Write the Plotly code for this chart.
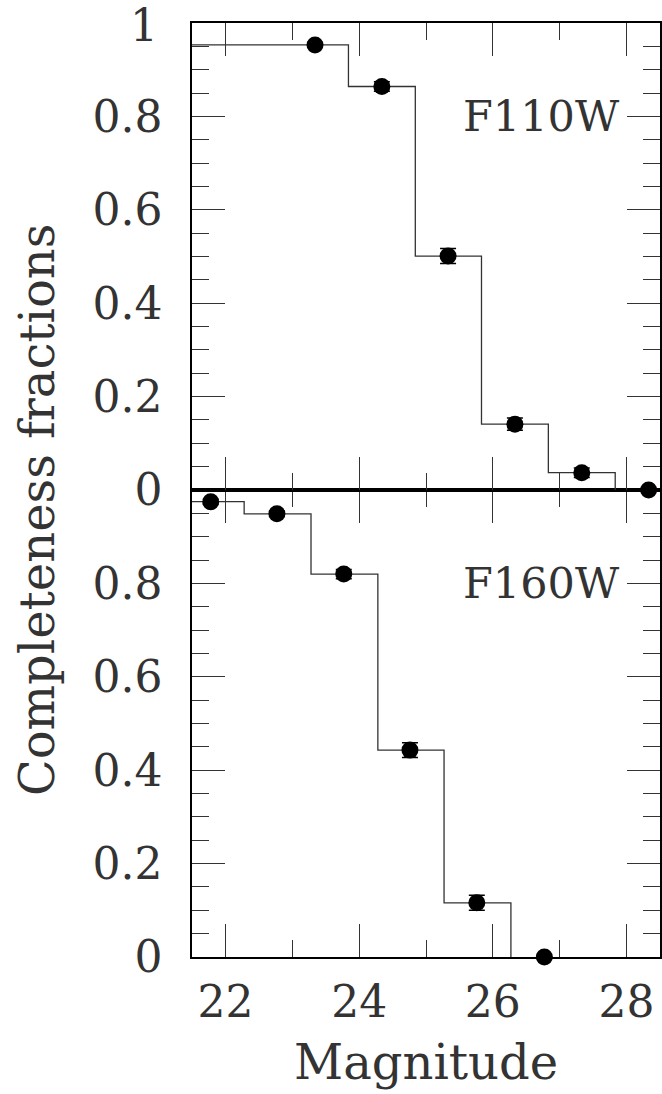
import plotly.graph_objects as go

# ---- data ----
f110_mag = [23.34, 24.34, 25.33, 26.33, 27.33, 28.33]
f110_frac = [0.953, 0.864, 0.501, 0.141, 0.037, 0.0]
f110_err = [0.005, 0.010, 0.016, 0.013, 0.010, 0.0]
f110_edges = [21.5, 23.84, 24.84, 25.83, 26.83, 27.83, 27.83]
f110_levels = [0.953, 0.864, 0.501, 0.141, 0.037, 0.0, 0.0]

f160_mag = [21.78, 22.77, 23.77, 24.76, 25.76, 26.77]
f160_frac = [0.975, 0.949, 0.820, 0.443, 0.116, 0.0]
f160_err = [0.005, 0.006, 0.010, 0.016, 0.016, 0.0]
f160_edges = [21.5, 22.28, 23.28, 24.28, 25.27, 26.27, 26.27]
f160_levels = [0.975, 0.949, 0.820, 0.443, 0.116, 0.0, 0.0]

x_ticks = [22, 24, 26, 28]
y_ticks_top = [0, 0.2, 0.4, 0.6, 0.8, 1]
y_labels_top = ["0", "0.2", "0.4", "0.6", "0.8", ""]
y_top_label = "1"
y_ticks_bot = [0, 0.2, 0.4, 0.6, 0.8, 1]
y_labels_bot = ["0", "0.2", "0.4", "0.6", "0.8", ""]

FONT = "DejaVu Serif"
TXT = "#333"

fig = go.Figure()

# upper panel (F110W)
fig.add_trace(go.Scatter(x=f110_edges, y=f110_levels, mode="lines", line_shape="hv",
                         line=dict(color="#333", width=1.3), xaxis="x2", yaxis="y2",
                         showlegend=False, hoverinfo="skip"))
fig.add_trace(go.Scatter(x=f110_mag, y=f110_frac, mode="markers",
                         marker=dict(size=17, color="black"),
                         error_y=dict(type="data", array=f110_err, color="black", thickness=1.5, width=8),
                         xaxis="x2", yaxis="y2", showlegend=False, cliponaxis=False))

# lower panel (F160W)
fig.add_trace(go.Scatter(x=f160_edges, y=f160_levels, mode="lines", line_shape="hv",
                         line=dict(color="#333", width=1.3), xaxis="x", yaxis="y",
                         showlegend=False, hoverinfo="skip"))
fig.add_trace(go.Scatter(x=f160_mag, y=f160_frac, mode="markers",
                         marker=dict(size=17, color="black"),
                         error_y=dict(type="data", array=f160_err, color="black", thickness=1.5, width=8),
                         xaxis="x", yaxis="y", showlegend=False, cliponaxis=False))

xcommon = dict(range=[21.5, 28.5], tickmode="array", tickvals=x_ticks,
               ticks="inside", ticklen=33, tickwidth=1.2, tickcolor="#333",
               minor=dict(dtick=1, tick0=22, ticks="inside", ticklen=17, tickwidth=1.2,
                          tickcolor="#333", showgrid=False),
               showline=True, linecolor="black", linewidth=1.5, mirror="ticks",
               showgrid=False, zeroline=False, ticklabeloverflow="allow", automargin=False,
               tickfont=dict(family=FONT, size=44, color=TXT))
ycommon = dict(range=[0, 1], tickmode="array",
               ticks="inside", ticklen=33, tickwidth=1.2, tickcolor="#333",
               minor=dict(dtick=0.05, tick0=0, ticks="inside", ticklen=17, tickwidth=1.2,
                          tickcolor="#333", showgrid=False),
               showline=True, linecolor="black", linewidth=1.5, mirror="ticks",
               showgrid=False, zeroline=False, ticklabelstandoff=19, ticklabeloverflow="allow",
               automargin=False,
               tickfont=dict(family=FONT, size=44, color=TXT))

fig.update_layout(
    width=662, height=1094,
    margin=dict(l=192, r=2, t=23, b=137),
    paper_bgcolor="white", plot_bgcolor="white",
    xaxis=dict(**xcommon, anchor="y", ticklabelstandoff=5),
    xaxis2=dict(**xcommon, anchor="y2", showticklabels=False, matches="x"),
    yaxis=dict(**ycommon, domain=[0, 0.5], anchor="x", tickvals=y_ticks_bot, ticktext=y_labels_bot),
    yaxis2=dict(**ycommon, domain=[0.5, 1], anchor="x2", tickvals=y_ticks_top, ticktext=y_labels_top),
    annotations=[
        dict(text=y_top_label, x=-0.0684, y=0.9968, xref="paper", yref="paper", xanchor="right",
             yanchor="middle", showarrow=False, font=dict(family=FONT, size=44, color=TXT)),
        dict(text="F110W", x=27.93, y=0.8, xref="x2", yref="y2", xanchor="right", yanchor="middle",
             showarrow=False, font=dict(family=FONT, size=43, color=TXT)),
        dict(text="F160W", x=27.93, y=0.8, xref="x", yref="y", xanchor="right", yanchor="middle",
             showarrow=False, font=dict(family=FONT, size=43, color=TXT)),
        dict(text="Magnitude", x=0.5, y=-0.1124, xref="paper", yref="paper", xanchor="center",
             yanchor="middle", showarrow=False, font=dict(family=FONT, size=48, color=TXT)),
        dict(text="Completeness fractions", x=-0.331, y=0.4786, xref="paper", yref="paper",
             xanchor="center", yanchor="middle", textangle=-90, showarrow=False,
             font=dict(family=FONT, size=48, color=TXT)),
    ],
)

fig.write_html("out.html")
